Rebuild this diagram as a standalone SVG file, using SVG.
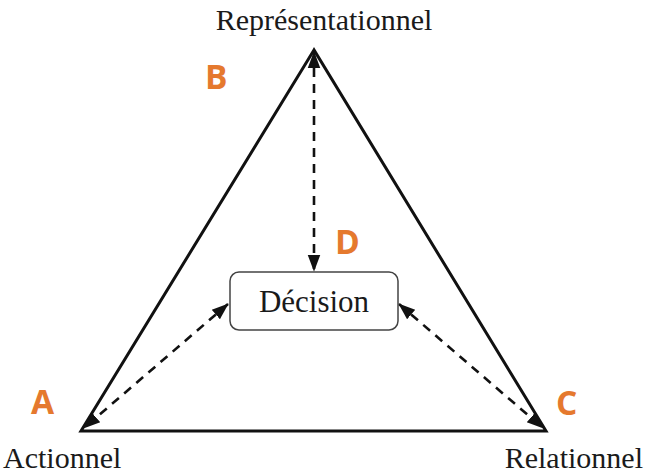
<svg xmlns="http://www.w3.org/2000/svg" width="646" height="476" viewBox="0 0 646 476">
<style>
.lbl{font-family:"Liberation Serif","Times New Roman",serif;fill:#1a1a1a}
.let{font-family:"Open Sans","Liberation Sans",sans-serif;font-weight:bold;font-size:33.5px;fill:#E5792E}
.dash{stroke:#111;stroke-width:2.6;stroke-dasharray:9,7;fill:none;marker-start:url(#ah);marker-end:url(#ah)}
</style>
<defs>
<marker id="ah" viewBox="0 0 10 10" refX="9.5" refY="5" markerWidth="6.5" markerHeight="6.5" orient="auto-start-reverse" markerUnits="strokeWidth">
<path d="M0,1.3 L10,5 L0,8.7 Z" fill="#111"/>
</marker>
</defs>
<rect width="646" height="476" fill="#fff"/>
<g id="triangle">
<polygon points="314,50 81,431 546,431" fill="none" stroke="#111" stroke-width="3" stroke-linejoin="miter"/>
</g>
<g id="connectors">
<line class="dash" x1="314" y1="52" x2="314" y2="271"/>
<line class="dash" x1="228" y1="304" x2="84" y2="428"/>
<line class="dash" x1="399" y1="304" x2="543" y2="428"/>
</g>
<g id="decision">
<rect x="230" y="272" width="168" height="58" rx="9" fill="#fff" stroke="#444" stroke-width="1.5"/>
<text class="lbl" x="314" y="312" text-anchor="middle" font-size="31">Décision</text>
</g>
<g id="representationnel"><text class="lbl" x="324" y="30" text-anchor="middle" font-size="30">Représentationnel</text></g>
<g id="actionnel"><text class="lbl" x="3" y="468" font-size="30">Actionnel</text></g>
<g id="relationnel"><text class="lbl" x="643" y="468" text-anchor="end" font-size="30">Relationnel</text></g>
<g id="letters">
<text class="let" x="205" y="89">B</text>
<text class="let" x="31" y="414">A</text>
<text class="let" x="556" y="415">C</text>
<text class="let" x="335" y="254">D</text>
</g>
</svg>
